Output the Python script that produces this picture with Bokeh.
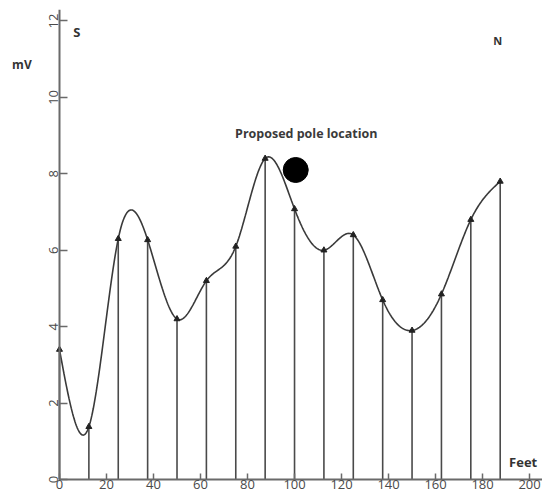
import numpy as np
from bokeh.plotting import figure
from bokeh.models import Range1d, Label, FixedTicker
from bokeh.embed import file_html
from bokeh.resources import INLINE

# Data
feet = [0, 12.5, 25, 37.5, 50, 62.5, 75, 87.5, 100, 112.5, 125, 137.5, 150, 162.5, 175, 187.5]
mv = [3.4, 1.38, 6.3, 6.27, 4.2, 5.2, 6.1, 8.4, 7.08, 6.0, 6.4, 4.7, 3.9, 4.85, 6.8, 7.8]
x_ticks = [0, 20, 40, 60, 80, 100, 120, 140, 160, 180, 200]
y_ticks = [0, 2, 4, 6, 8, 10, 12]
pole_x = [100.5]
pole_y = [8.1]


def natural_spline(x, y, n=40):
    x = np.asarray(x, float)
    y = np.asarray(y, float)
    k = len(x)
    h = np.diff(x)
    A = np.zeros((k, k))
    b = np.zeros(k)
    A[0, 0] = 1
    A[-1, -1] = 1
    for i in range(1, k - 1):
        A[i, i - 1] = h[i - 1]
        A[i, i] = 2 * (h[i - 1] + h[i])
        A[i, i + 1] = h[i]
        b[i] = 6 * ((y[i + 1] - y[i]) / h[i] - (y[i] - y[i - 1]) / h[i - 1])
    M = np.linalg.solve(A, b)
    xs, ys = [], []
    for i in range(k - 1):
        t = np.linspace(x[i], x[i + 1], n, endpoint=(i == k - 2))
        a = x[i + 1] - t
        c = t - x[i]
        s = (M[i] * a ** 3 + M[i + 1] * c ** 3) / (6 * h[i]) \
            + (y[i] / h[i] - M[i] * h[i] / 6) * a \
            + (y[i + 1] / h[i] - M[i + 1] * h[i] / 6) * c
        xs.extend(t)
        ys.extend(s)
    return xs, ys


cx, cy = natural_spline(feet, mv)

p = figure(width=542, height=496, output_backend="svg", toolbar_location=None,
           x_range=Range1d(-25.1, 205.5), y_range=Range1d(-0.445, 12.3),
           min_border_left=0, min_border_right=0, min_border_top=9, min_border_bottom=0)
p.outline_line_color = None
p.xgrid.visible = False
p.ygrid.visible = False
p.background_fill_color = "white"
p.border_fill_color = "white"

ink = "#3a3a3a"
axis_col = "#6a6a6a"
for ax in (p.xaxis[0], p.yaxis[0]):
    ax.fixed_location = 0
    ax.axis_line_color = axis_col
    ax.axis_line_width = 2
    ax.major_tick_line_color = axis_col
    ax.major_tick_line_width = 1.5
    ax.major_tick_out = 0
    ax.minor_tick_line_color = None
    ax.major_label_text_font = "Open Sans"
    ax.major_label_text_font_size = "13px"
    ax.major_label_text_color = "#4a4a4a"
    ax.major_label_standoff = 1

p.xaxis[0].bounds = (0, 210)
p.yaxis[0].bounds = (0, 12.3)
p.xaxis[0].ticker = FixedTicker(ticks=x_ticks)
p.yaxis[0].ticker = FixedTicker(ticks=y_ticks)
p.xaxis[0].major_tick_in = 6
p.yaxis[0].major_tick_in = 8
p.yaxis[0].major_label_orientation = "vertical"

# vertical drop lines
p.segment(x0=feet, y0=[0] * len(feet), x1=feet, y1=mv, line_color="#4a4a4a", line_width=1.6)
# smooth curve
p.line(cx, cy, line_color=ink, line_width=1.6)
# arrow heads
p.scatter(feet, mv, marker="triangle", size=6, color="#222222")
# proposed pole
p.scatter(pole_x, pole_y, marker="circle", size=25, color="black")

p.add_layout(Label(x=105, y=9.05, text="Proposed pole location", text_align="center",
                   text_baseline="middle", text_font="Open Sans", text_font_size="12.5px",
                   text_font_style="bold", text_color="#3a3a3a"))
p.add_layout(Label(x=5.8, y=11.7, text="S", text_align="left", text_baseline="middle",
                   text_font="Open Sans", text_font_size="13px", text_font_style="bold",
                   text_color="#333333"))
p.add_layout(Label(x=186.5, y=11.5, text="N", text_align="center", text_baseline="middle",
                   text_font="Open Sans", text_font_size="11px", text_font_style="bold",
                   text_color="#333333"))
p.add_layout(Label(x=-16, y=10.85, text="mV", text_align="center", text_baseline="middle",
                   text_font="Open Sans", text_font_size="12px", text_font_style="bold",
                   text_color="#333333"))
p.add_layout(Label(x=191.3, y=0.45, text="Feet", text_align="left", text_baseline="middle",
                   text_font="Open Sans", text_font_size="13px", text_font_style="bold",
                   text_color="#333333"))

open("out.html", "w").write(file_html(p, INLINE))
